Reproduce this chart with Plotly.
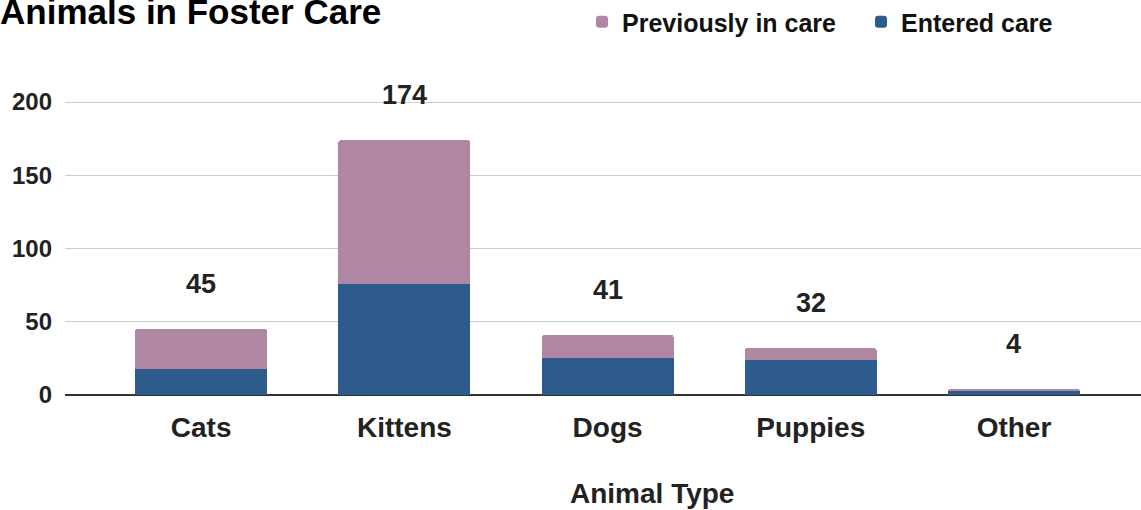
import plotly.graph_objects as go

categories = ["Cats", "Kittens", "Dogs", "Puppies", "Other"]
entered_care = [18, 76, 25, 24, 3]
previously_in_care = [27, 98, 16, 8, 1]
totals = [45, 174, 41, 32, 4]
y_ticks = [0, 50, 100, 150, 200]

PINK = "#B087A3"
BLUE = "#2D5B8C"
FONT = "Liberation Sans, Arial, sans-serif"

fig = go.Figure()
fig.add_trace(go.Bar(
    x=categories, y=entered_care, name="Entered care",
    marker=dict(color=BLUE, line=dict(width=0)),
))
fig.add_trace(go.Bar(
    x=categories, y=previously_in_care, name="Previously in care",
    marker=dict(color=PINK, line=dict(width=0)),
))

for c, t in zip(categories, totals):
    fig.add_annotation(
        x=c, y=t, text=str(t), showarrow=False, yshift=45,
        font=dict(family=FONT, size=27, color="#222222", weight="bold"),
    )

fig.add_annotation(
    xref="paper", yref="paper", x=0.546, y=0, yshift=-98,
    xanchor="center", yanchor="middle",
    text="Animal Type", showarrow=False,
    font=dict(family=FONT, size=28, color="#222222", weight="bold"),
)

fig.update_layout(
    width=1141, height=510,
    barmode="stack", bargap=0.35, barcornerradius=3,
    paper_bgcolor="white", plot_bgcolor="white",
    margin=dict(l=65, r=0, t=60, b=115, autoexpand=False),
    title=dict(
        text="Animals in Foster Care", x=0, xref="container", xanchor="left",
        y=1, yref="container", yanchor="top", pad=dict(t=-1, l=0),
        font=dict(family=FONT, size=35, color="#000000", weight="bold"),
    ),
    legend=dict(
        orientation="h", traceorder="reversed",
        xref="container", yref="container",
        x=582 / 1141, xanchor="left", y=1 - 22 / 510, yanchor="middle",
        font=dict(family=FONT, size=25, color="#111111", weight="bold"),
        itemsizing="constant", entrywidth=234, entrywidthmode="pixels",
    ),
    xaxis=dict(
        range=[-0.67, 4.625], showgrid=False, ticks="",
        tickfont=dict(family=FONT, size=28, color="#222222", weight="bold"),
        showline=False, automargin=False, ticklabelstandoff=13,
    ),
    yaxis=dict(
        range=[0, 228.7], tickvals=y_ticks,
        gridcolor="#CCCCCC", gridwidth=1,
        zeroline=True, zerolinecolor="#333333", zerolinewidth=2,
        tickfont=dict(family=FONT, size=24, color="#222222", weight="bold"),
        ticklabelstandoff=12, automargin=False,
    ),
    showlegend=True,
)

fig.write_html(
    "out.html",
    config={"displayModeBar": False},
    post_script="document.body.style.margin='0px';",
)
